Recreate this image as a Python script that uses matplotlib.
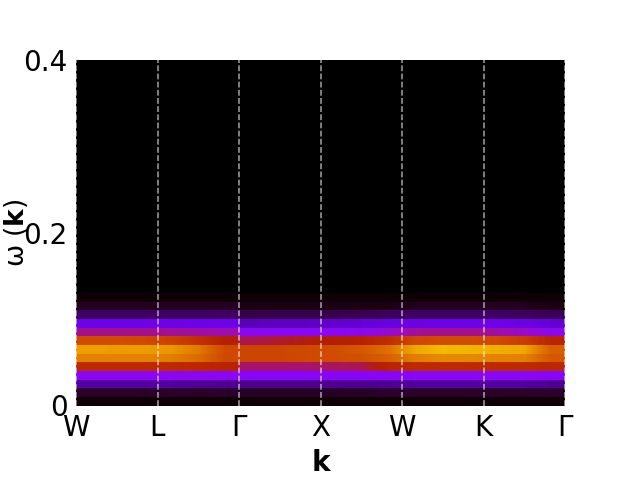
#!/usr/bin/env python3

import numpy as np
import matplotlib
matplotlib.use("Agg")
import matplotlib.pyplot as plt

k_labels = ["W", "L", "Γ", "X", "W", "K", "Γ"]
k_ticks = [0, 1, 2, 3, 4, 5, 6]
w_ticks = [0, 0.2, 0.4]
w_ticklabels = ["0", "0.2", "0.4"]
w_step = 0.01

# intensity per frequency bin (bottom row first), W -> Γ, six cells
left_band = [
    [.006, .006, .006, .006, .006, .006],
    [.03, .03, .03, .03, .03, .03],
    [.11, .11, .11, .11, .105, .10],
    [.30, .30, .30, .30, .30, .29],
    [.55, .55, .55, .55, .54, .52],
    [.80, .80, .80, .79, .75, .66],
    [.855, .85, .85, .84, .78, .66],
    [.67, .67, .66, .64, .58, .50],
    [.41, .41, .41, .40, .39, .38],
    [.185, .185, .185, .185, .19, .19],
    [.065, .065, .065, .065, .065, .065],
    [.02, .02, .02, .02, .02, .02],
    [.005, .005, .005, .005, .005, .005],
]

# same rows, Γ -> X -> W -> K -> Γ, twelve cells
right_band = [
    [.006, .006, .006, .006, .006, .006, .006, .006, .006, .006, .006, .006],
    [.025, .025, .025, .025, .025, .03, .03, .03, .03, .03, .03, .03],
    [.095, .095, .095, .10, .10, .10, .11, .11, .11, .11, .11, .10],
    [.28, .28, .28, .28, .28, .28, .29, .29, .29, .29, .29, .28],
    [.43, .43, .43, .44, .45, .52, .55, .55, .55, .55, .55, .54],
    [.65, .65, .66, .67, .68, .72, .79, .81, .81, .80, .80, .70],
    [.65, .65, .66, .67, .70, .76, .87, .90, .89, .88, .87, .72],
    [.45, .47, .49, .50, .51, .56, .66, .67, .67, .66, .62, .53],
    [.30, .30, .30, .30, .31, .35, .40, .41, .41, .39, .36, .31],
    [.13, .14, .14, .15, .16, .17, .18, .19, .19, .19, .18, .16],
    [.05, .05, .05, .05, .055, .06, .065, .065, .065, .065, .06, .055],
    [.015, .015, .015, .015, .015, .015, .02, .02, .02, .02, .02, .015],
    [.004, .004, .004, .004, .004, .004, .005, .005, .005, .005, .005, .004],
]

fig = plt.figure(figsize=(6.4, 4.8), dpi=100)
ax = fig.add_axes([76 / 640, 1 - 405.5 / 480, 489 / 640, 345.5 / 480])
ax.set_facecolor("black")

# one image per row so only the k direction gets smoothed
for band, x0, x1 in [(left_band, 0, 2), (right_band, 2, 6)]:
    for i, row in enumerate(band):
        ax.imshow(np.array([row]), cmap="gnuplot", vmin=0, vmax=1, aspect="auto",
                  interpolation="bilinear", origin="lower",
                  extent=[x0, x1, i * w_step, (i + 1) * w_step])

for k in k_ticks:
    ax.axvline(k, color="white", alpha=0.5, linewidth=1.4, clip_on=False,
               linestyle=(0, (3, 1.2)))

ax.set_xlim(0, 6)
ax.set_ylim(0, 0.4)
ax.set_xticks(k_ticks)
ax.set_xticklabels(k_labels)
ax.set_yticks(w_ticks)
ax.set_yticklabels(w_ticklabels)
ax.tick_params(axis="x", length=0, labelsize=20, pad=6)
ax.tick_params(axis="y", length=0, labelsize=20, pad=6)
for s in ax.spines.values():
    s.set_visible(False)

ax.set_xlabel("k", fontsize=20, fontweight="bold", labelpad=5)
ax.set_ylabel(r"ω ($\mathbf{k}$)", fontsize=19, labelpad=-5)

fig.savefig("out.png", dpi=100)
